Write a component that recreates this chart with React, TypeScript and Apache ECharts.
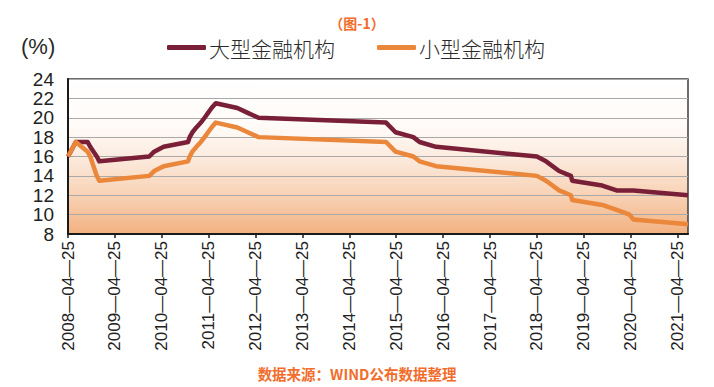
import React, { useEffect, useRef } from "react";
import * as echarts from "echarts";

// RRR adjustment dates and values (%)
const dates = [
  "2008-04-25", "2008-06-25", "2008-09-25", "2008-10-15", "2008-12-05", "2008-12-25",
  "2010-01-18", "2010-02-25", "2010-05-10", "2010-11-16", "2010-11-29", "2010-12-20",
  "2011-01-20", "2011-02-24", "2011-03-25", "2011-04-21", "2011-05-18", "2011-06-20",
  "2011-12-05", "2012-02-24", "2012-05-18", "2015-02-05", "2015-04-20", "2015-09-06",
  "2015-10-24", "2016-03-01", "2018-04-25", "2018-07-05", "2018-10-15", "2019-01-15",
  "2019-01-25", "2019-09-16", "2020-01-06", "2020-04-15", "2020-05-15", "2021-07-15",
];
const largeValues = [
  16.0, 17.5, 17.5, 17.0, 16.0, 15.5,
  16.0, 16.5, 17.0, 17.5, 18.0, 18.5,
  19.0, 19.5, 20.0, 20.5, 21.0, 21.5,
  21.0, 20.5, 20.0, 19.5, 18.5, 18.0,
  17.5, 17.0, 16.0, 15.5, 14.5, 14.0,
  13.5, 13.0, 12.5, 12.5, 12.5, 12.0,
];
const smallValues = [
  16.0, 17.5, 16.5, 16.0, 14.0, 13.5,
  14.0, 14.5, 15.0, 15.5, 16.0, 16.5,
  17.0, 17.5, 18.0, 18.5, 19.0, 19.5,
  19.0, 18.5, 18.0, 17.5, 16.5, 16.0,
  15.5, 15.0, 14.0, 13.5, 12.5, 12.0,
  11.5, 11.0, 10.5, 10.0, 9.5, 9.0,
];
const tickYears = [2008, 2009, 2010, 2011, 2012, 2013, 2014, 2015, 2016, 2017, 2018, 2019, 2020, 2021];
const seriesNames = ["大型金融机构", "小型金融机构"];
const title = "（图-1）";
const source = "数据来源：WIND公布数据整理";
const unitLabel = "(%)";

const ts = (d: string) => Date.parse(d + "T00:00:00Z");

export default function App() {
  const ref = useRef<HTMLDivElement>(null);
  useEffect(() => {
    if (!ref.current) return;
    const chart = echarts.init(ref.current, null, { renderer: "svg" });
    const tickValues = tickYears.map((y) => ts(`${y}-04-25`));
    const large = dates.map((d, i) => [ts(d), largeValues[i]]);
    const small = dates.map((d, i) => [ts(d), smallValues[i]]);
    const orange = "#ea873b";
    const maroon = "#7a1f38";
    chart.setOption({
      animation: false,
      backgroundColor: "#ffffff",
      textStyle: { fontFamily: "Liberation Sans, Noto Sans CJK SC, sans-serif" },
      grid: {
        left: 68,
        top: 79,
        right: 26,
        bottom: 153,
        show: true,
        outerBoundsMode: "none",
        borderColor: "#3c3c3c",
        borderWidth: 1.5,
        backgroundColor: new echarts.graphic.LinearGradient(0, 0, 0, 1, [
          { offset: 0, color: "#ffffff" },
          { offset: 0.3, color: "#fffbf8" },
          { offset: 0.5, color: "#fcebdf" },
          { offset: 0.75, color: "#f8d2b5" },
          { offset: 1, color: "#f2b180" },
        ]),
      },
      legend: {
        left: 162,
        top: 32,
        itemWidth: 39,
        itemHeight: 5,
        itemGap: 42,
        icon: "roundRect",
        data: seriesNames,
        textStyle: {
          fontFamily: "Noto Sans CJK SC",
          fontWeight: 300,
          fontSize: 21,
          color: "#2a2a2a",
          padding: [0, 0, 0, -2],
        },
      },
      graphic: [
        {
          type: "text",
          left: 21,
          top: 35,
          style: {
            text: unitLabel,
            fontSize: 22,
            fontFamily: "Liberation Sans",
            fill: "#2a2a2a",
          },
        },
        {
          type: "text",
          x: 357,
          y: 23,
          style: {
            text: title,
            fontSize: 14,
            fontWeight: "bold",
            fontFamily: "Noto Sans CJK SC",
            fill: "#f26d2b",
            align: "center",
            verticalAlign: "middle",
          },
        },
        {
          type: "text",
          x: 357,
          y: 373,
          style: {
            text: source,
            fontSize: 14.5,
            fontWeight: "bold",
            fontFamily: "Noto Sans CJK SC",
            fill: "#f26d2b",
            align: "center",
            verticalAlign: "middle",
          },
        },
      ],
      xAxis: {
        type: "value",
        min: ts(dates[0]),
        max: ts(dates[dates.length - 1]),
        splitLine: { show: false },
        axisLine: { show: true, lineStyle: { color: "#1a1a1a", width: 2 } },
        axisTick: {
          show: true,
          length: 4,
          customValues: tickValues,
          lineStyle: { color: "#1a1a1a", width: 1.5 },
        },
        axisLabel: {
          customValues: tickValues,
          rotate: 90,
          margin: 7,
          fontSize: 17,
          color: "#222",
          fontFamily: "Liberation Sans",
          formatter: (v: number) => `${new Date(v).getUTCFullYear()}—04—25`,
        },
      },
      yAxis: {
        type: "value",
        min: 8,
        max: 24,
        interval: 2,
        axisLine: { show: true, lineStyle: { color: "#1a1a1a", width: 2 } },
        axisTick: { show: false },
        splitLine: { show: true, lineStyle: { color: "#a9a9a9", width: 1 } },
        axisLabel: {
          fontSize: 19,
          margin: 14,
          color: "#222",
          fontFamily: "Liberation Sans",
        },
      },
      series: [
        {
          name: seriesNames[0],
          type: "line",
          data: large,
          symbol: "none",
          lineStyle: { color: maroon, width: 4.5, join: "round" },
          itemStyle: { color: maroon },
        },
        {
          name: seriesNames[1],
          type: "line",
          data: small,
          symbol: "none",
          lineStyle: { color: orange, width: 4.5, join: "round" },
          itemStyle: { color: orange },
        },
      ],
    });
    return () => chart.dispose();
  }, []);
  return <div ref={ref} style={{ width: 714, height: 387, position: "absolute", left: 0, top: 0 }} />;
}
